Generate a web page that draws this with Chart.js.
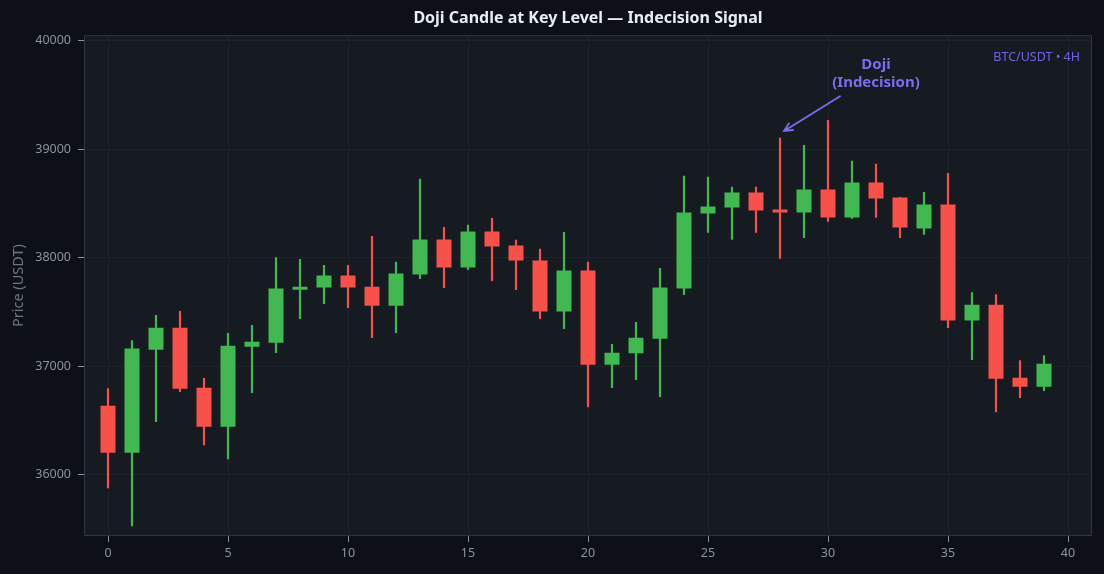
<!DOCTYPE html>
<html>
<head>
<meta charset="utf-8">
<script src="https://cdn.jsdelivr.net/npm/chart.js@4.4.1/dist/chart.umd.min.js"></script>
<style>
  html, body { margin: 0; padding: 0; background: #0d1117; }
  #wrap { width: 1104px; height: 574px; position: relative; }
</style>
</head>
<body>
<div id="wrap"><canvas id="c"></canvas></div>
<script>
// ---- Data ----
const opens  = [36636,36202,37152,37355,36802,36442,37180,37217,37705,37724,
                37835,37733,37558,37844,38167,37909,38241,38112,37973,37503,
                37881,37014,37120,37254,37715,38407,38462,38601,38444,38416,
                38628,38370,38693,38555,38269,38490,37420,37567,36894,36811];
const highs  = [36795,37235,37469,37506,36888,37303,37376,38001,37985,37930,
                37930,38197,37958,38723,38280,38299,38363,38161,38078,38234,
                37958,37201,37404,37902,38751,38742,38650,38650,39102,39034,
                39265,38889,38862,38555,38601,38776,37678,37660,37051,37097];
const lows   = [35879,35529,36488,36765,36276,36147,36756,37125,37438,37577,
                37540,37263,37309,37807,37724,37890,37789,37706,37438,37346,
                36626,36802,36875,36719,37660,38232,38167,38232,37992,38185,
                38333,38361,38370,38185,38213,37355,37060,36580,36710,36774];
const closes = [36202,37162,37355,36792,36442,37189,37226,37715,37733,37835,
                37724,37558,37853,38167,37909,38241,38102,37973,37503,37881,
                37014,37125,37263,37724,38416,38471,38601,38435,38416,38628,
                38370,38693,38545,38278,38490,37420,37567,36885,36811,37023];
const xTicks = [0,5,10,15,20,25,30,35,40];
const yTicks = [36000,37000,38000,39000,40000];

const titleText = 'Doji Candle at Key Level — Indecision Signal';
const yTitle = 'Price (USDT)';
const tagText = 'BTC/USDT • 4H';
const annotLines = ['Doji', '(Indecision)'];
// annotation anchor points in data coordinates
const annotText = { x: 32.0, y: 39695 };
const annotTail = { x: 30.5, y: 39486 };
const annotTip  = { x: 28.17, y: 39167 };

// ---- Styling ----
const UP = '#3fb950', DOWN = '#f85149';
const PURPLE = '#7b6cf2';
const FONT = "'Noto Sans', 'DejaVu Sans', sans-serif";

const idx = opens.map((_, i) => i);
const colors = idx.map(i => closes[i] >= opens[i] ? UP : DOWN);
const bodyData = idx.map(i => ({ x: i, y: [Math.min(opens[i], closes[i]), Math.max(opens[i], closes[i])] }));
const wickData = idx.map(i => ({ x: i, y: [lows[i], highs[i]] }));

const framePlugin = {
  id: 'frame',
  beforeDraw(chart) {
    const { ctx, chartArea: a } = chart;
    ctx.save();
    ctx.fillStyle = '#0d1117';
    ctx.fillRect(0, 0, chart.width, chart.height);
    ctx.fillStyle = '#161b22';
    ctx.fillRect(a.left, a.top, a.right - a.left, a.bottom - a.top);
    ctx.restore();
  },
  afterDraw(chart) {
    const { ctx, chartArea: a } = chart;
    ctx.save();
    ctx.strokeStyle = '#30363d';
    ctx.lineWidth = 1;
    ctx.strokeRect(a.left + 0.5, a.top + 0.5, a.right - a.left - 1, a.bottom - a.top - 1);
    // tag text
    ctx.fillStyle = '#6f64e0';
    ctx.font = `12.5px ${FONT}`;
    ctx.textAlign = 'right';
    ctx.textBaseline = 'middle';
    ctx.fillText(tagText, a.right - 12, a.top + 22);
    ctx.restore();
  }
};

const annotPlugin = {
  id: 'annot',
  afterDatasetsDraw(chart) {
    const { ctx, scales: { x, y } } = chart;
    const tx = x.getPixelForValue(annotText.x), ty = y.getPixelForValue(annotText.y);
    const ax = x.getPixelForValue(annotTail.x), ay = y.getPixelForValue(annotTail.y);
    const bx = x.getPixelForValue(annotTip.x),  by = y.getPixelForValue(annotTip.y);
    ctx.save();
    ctx.fillStyle = PURPLE;
    ctx.font = `bold 15px ${FONT}`;
    ctx.textAlign = 'center';
    ctx.textBaseline = 'middle';
    ctx.fillText(annotLines[0], tx, ty - 9);
    ctx.fillText(annotLines[1], tx, ty + 9);
    ctx.strokeStyle = PURPLE;
    ctx.lineWidth = 1.8;
    ctx.lineCap = 'round';
    ctx.beginPath();
    ctx.moveTo(ax, ay);
    ctx.lineTo(bx, by);
    const ang = Math.atan2(by - ay, bx - ax);
    const L = 9, W = 0.45;
    ctx.moveTo(bx - L * Math.cos(ang - W), by - L * Math.sin(ang - W));
    ctx.lineTo(bx, by);
    ctx.lineTo(bx - L * Math.cos(ang + W), by - L * Math.sin(ang + W));
    ctx.stroke();
    ctx.restore();
  }
};

new Chart(document.getElementById('c'), {
  type: 'bar',
  data: {
    datasets: [
      { label: 'body', data: bodyData, backgroundColor: colors, borderWidth: 0,
        barPercentage: 0.625, categoryPercentage: 1.0, grouped: false, order: 1 },
      { label: 'wick', data: wickData, backgroundColor: colors, borderWidth: 0,
        barThickness: 1.5, grouped: false, order: 2 }
    ]
  },
  options: {
    responsive: true,
    maintainAspectRatio: false,
    animation: false,
    devicePixelRatio: 1,
    layout: { padding: { left: 0, right: 12, top: 0, bottom: 0 } },
    plugins: {
      legend: { display: false },
      tooltip: { enabled: false },
      title: {
        display: true, fullSize: false, text: titleText, color: '#e6edf3',
        font: { family: FONT, size: 16, weight: 'bold', lineHeight: 1.2 },
        padding: { top: 9, bottom: 7 }
      }
    },
    scales: {
      x: {
        type: 'linear', min: -1, max: 41, offset: false,
        afterBuildTicks(s) { s.ticks = xTicks.map(v => ({ value: v })); },
        afterFit(s) { s.height = 38; },
        grid: { offset: false, color: '#1f242b', lineWidth: 1, tickColor: '#8b949e', tickLength: 6, drawTicks: true },
        border: { display: false },
        ticks: { color: '#8b949e', font: { family: FONT, size: 12.5 }, padding: 4, maxRotation: 0,
                 callback: v => String(v) }
      },
      y: {
        type: 'linear', min: 35436, max: 40049,
        afterBuildTicks(s) { s.ticks = yTicks.map(v => ({ value: v })); },
        afterFit(s) { s.width = 84; },
        grid: { color: '#1f242b', lineWidth: 1, tickColor: '#8b949e', tickLength: 6, drawTicks: true },
        border: { display: false },
        ticks: { color: '#8b949e', font: { family: FONT, size: 12.5 }, padding: 7,
                 callback: v => String(v) },
        title: { display: true, text: yTitle, color: '#6e7681',
                 font: { family: FONT, size: 14.5 }, padding: { top: 10, bottom: 0 } }
      }
    }
  },
  plugins: [framePlugin, annotPlugin]
});
</script>
</body>
</html>
